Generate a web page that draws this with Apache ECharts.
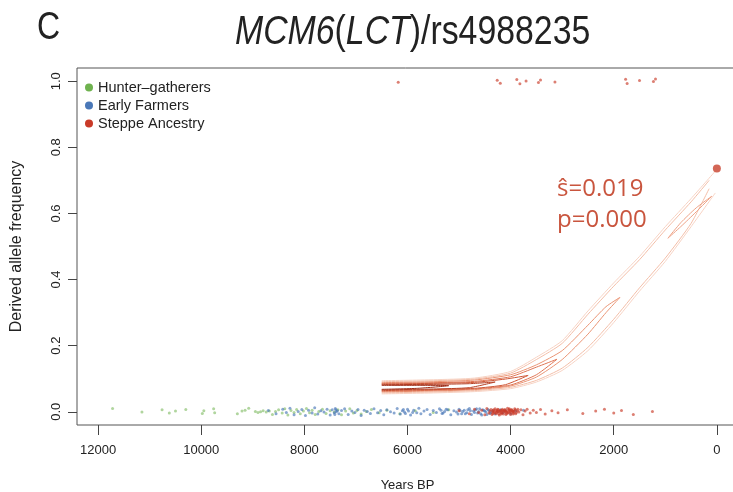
<!DOCTYPE html>
<html>
<head>
<meta charset="utf-8">
<script src="https://cdn.jsdelivr.net/npm/echarts@6/dist/echarts.min.js"></script>
<style>
  html, body { margin: 0; padding: 0; background: #fff; }
  #chart { width: 733px; height: 492px; }
</style>
</head>
<body>
<div id="chart"></div>
<script>
// tick labels
const xTicks = [0, 2000, 4000, 6000, 8000, 10000, 12000];
const yTicks = [0, 0.2, 0.4, 0.6, 0.8, 1.0];

// sample points: [years BP, allele frequency (0 or 1, jittered)]
const hunterPts = [
  [11720, 0.010], [11150, -0.001], [10760, 0.006], [10620, -0.004], [10500, 0.002],
  [10300, 0.007], [9980, -0.005], [9950, 0.003], [9760, 0.009], [9740, -0.003],
  [9300, -0.006], [9210, 0.002], [9150, 0.005], [9080, 0.011], [8950, 0.001],
  [8900, -0.002], [8850, 0.000], [8800, 0.003], [8740, -0.001], [8680, 0.002],
  [8620, -0.008], [8560, 0.001], [8500, 0.006], [8430, -0.004], [8380, 0.009],
  [8320, -0.010], [8260, 0.004], [8200, -0.002], [8150, 0.007], [8080, -0.006],
  [8020, 0.002], [7960, 0.010], [7900, -0.003], [7850, 0.005], [7790, -0.008],
  [7720, 0.001], [7650, 0.008], [7580, -0.005], [7500, 0.003], [7420, -0.001],
  [7350, 0.006], [7280, -0.009], [7200, 0.002], [7120, 0.009], [7050, -0.004],
  [6980, 0.004], [6900, -0.007], [6800, 0.001], [6700, 0.007], [6550, -0.003],
  [6400, 0.005], [6150, -0.006], [5850, 0.003], [5500, -0.002], [5200, 0.006]
];
const farmerPts = [
  [8700, 0.004], [8550, -0.006], [8420, 0.008], [8350, -0.002], [8280, 0.011],
  [8200, -0.009], [8120, 0.001], [8050, 0.007], [7980, -0.011], [7920, 0.005],
  [7850, -0.004], [7800, 0.012], [7740, -0.007], [7680, 0.003], [7620, -0.001],
  [7560, 0.008], [7500, -0.010], [7460, 0.006], [7420, -0.003], [7400, 0.010],
  [7380, 0.000], [7330, -0.006], [7280, 0.004], [7220, 0.009], [7150, -0.008],
  [7080, 0.002], [7020, -0.002], [6960, 0.007], [6900, -0.011], [6840, 0.005],
  [6780, 0.001], [6720, -0.005], [6650, 0.009], [6580, -0.003], [6520, 0.004],
  [6460, -0.009], [6400, 0.006], [6330, 0.000], [6260, -0.004], [6200, 0.010],
  [6140, -0.007], [6100, 0.003], [6060, -0.001], [6000, 0.008], [5940, -0.010],
  [5880, 0.005], [5820, -0.003], [5780, 0.011], [5740, -0.006], [5680, 0.002],
  [5620, 0.007], [5560, -0.008], [5500, 0.004], [5440, -0.002], [5380, 0.009],
  [5330, -0.005], [5280, 0.001], [5220, 0.006], [5160, -0.009], [5100, 0.003],
  [5050, -0.001], [5000, 0.008], [4950, -0.006], [4900, 0.005], [4850, -0.003],
  [4800, 0.010], [4760, -0.008], [4720, 0.002], [4680, 0.006], [4640, -0.004],
  [4600, 0.009], [4560, -0.010], [4520, 0.004], [4480, -0.001], [4440, 0.007],
  [4400, -0.005], [4350, 0.003], [4300, -0.007], [4250, 0.001], [4200, 0.006],
  [4150, -0.003], [4100, 0.004], [4000, -0.006], [3900, 0.002], [3750, 0.005],
  [7410, -0.008], [7390, 0.006], [7360, 0.003], [6080, 0.007], [6040, -0.005],
  [5980, 0.002], [5900, -0.002], [5350, 0.005], [5310, -0.004], [5250, 0.008],
  [5020, -0.007], [4980, 0.004], [4930, 0.001], [4880, -0.006], [4830, 0.006],
  [4780, 0.003], [4700, -0.002], [4660, 0.009], [4620, 0.001], [4580, -0.006],
  [4540, 0.006], [4500, 0.002], [4460, -0.008], [4420, 0.004], [4380, -0.002]
];
const steppePts = [
  [5000, 0.003], [4800, -0.006], [4700, 0.008], [4620, -0.002], [4560, 0.005],
  [4500, -0.009], [4460, 0.010], [4420, -0.004], [4400, 0.002], [4380, 0.007],
  [4360, -0.008], [4340, 0.004], [4320, -0.001], [4300, 0.009], [4280, -0.006],
  [4260, 0.001], [4240, 0.006], [4220, -0.010], [4200, 0.003], [4180, -0.003],
  [4160, 0.008], [4140, -0.007], [4120, 0.005], [4100, 0.000], [4080, -0.005],
  [4060, 0.011], [4040, -0.002], [4020, 0.004], [4000, -0.008], [3980, 0.007],
  [3960, 0.001], [3940, -0.004], [3920, 0.009], [3900, -0.006], [3870, 0.003],
  [3840, -0.001], [3800, 0.006], [3760, -0.009], [3720, 0.002], [3680, 0.008],
  [3620, -0.004], [3560, 0.005], [3500, -0.002], [3420, 0.007], [3330, -0.007],
  [3200, 0.003], [3080, -0.003], [2900, 0.006], [2600, -0.005], [2350, 0.002],
  [2180, 0.008], [2000, -0.004], [1850, 0.004], [1620, -0.008], [1250, 0.001],
  [4350, 0.000], [4330, 0.006], [4310, -0.004], [4290, 0.003], [4270, -0.002],
  [4250, 0.008], [4230, -0.006], [4210, 0.001], [4190, 0.005], [4170, -0.004],
  [4150, 0.002], [4130, -0.001], [4110, 0.007], [4090, -0.008], [4070, 0.003],
  [4050, -0.004], [4030, 0.006], [4010, 0.000], [3990, -0.003], [3970, 0.004],
  [3950, -0.007], [3930, 0.002], [3910, 0.006], [3890, -0.002], [3860, 0.008],
  [4345, -0.005], [4265, 0.004], [4185, -0.007], [4105, 0.002], [4025, 0.009],
  [3945, 0.001], [4235, 0.000], [4155, 0.004], [4075, -0.001], [3995, 0.005],
  [6180, 0.997], [4260, 1.003], [4200, 0.994], [3880, 1.005], [3820, 0.992],
  [3700, 1.001], [3460, 0.996], [3420, 1.004], [3140, 0.998], [1770, 1.006],
  [1740, 0.993], [1500, 1.002], [1230, 0.999], [1190, 1.007]
];
// present-day frequency
const modernPt = [[0, 0.736]];

// contour lines of the trajectory density (x = years BP, upper / lower edge)
const cOuter1X = [6500, 5500, 4700, 4000, 3500, 3000, 2500, 2000, 1500, 1000, 500, 30];
const cOuter1Up = [0.094, 0.097, 0.102, 0.122, 0.165, 0.215, 0.305, 0.390, 0.470, 0.560, 0.645, 0.728];
const cOuter1Lo = [0.054, 0.057, 0.061, 0.070, 0.090, 0.125, 0.185, 0.270, 0.365, 0.455, 0.560, 0.662];
const cOuter2X = [6500, 5500, 4700, 4000, 3500, 3000, 2500, 2000, 1500, 1000, 500, 150];
const cOuter2Up = [0.091, 0.094, 0.099, 0.117, 0.158, 0.207, 0.295, 0.380, 0.460, 0.550, 0.635, 0.700];
const cOuter2Lo = [0.057, 0.060, 0.064, 0.074, 0.095, 0.132, 0.195, 0.280, 0.375, 0.465, 0.570, 0.675];
const cIslandX = [950, 700, 400, 100];
const cIslandUp = [0.525, 0.572, 0.617, 0.652];
const cIslandLo = [0.525, 0.560, 0.605, 0.652];
const cAX = [6500, 5500, 4700, 4000, 3500, 3000, 2500, 2150, 1880];
const cAUp = [0.088, 0.091, 0.096, 0.112, 0.142, 0.185, 0.262, 0.318, 0.346];
const cALo = [0.060, 0.063, 0.067, 0.078, 0.105, 0.158, 0.235, 0.300, 0.346];
const cBX = [6500, 5500, 4700, 4000, 3500, 3100];
const cBUp = [0.086, 0.088, 0.092, 0.106, 0.135, 0.159];
const cBLo = [0.062, 0.065, 0.069, 0.081, 0.112, 0.159];
const cCX = [6500, 5500, 4700, 4100, 3660];
const cCUp = [0.084, 0.086, 0.089, 0.099, 0.110];
const cCLo = [0.064, 0.067, 0.071, 0.082, 0.110];
const cDX = [6500, 5500, 4800, 4300];
const cDUp = [0.082, 0.083, 0.085, 0.090];
const cDLo = [0.066, 0.069, 0.073, 0.090];
const cEX = [6500, 5800, 5200];
const cEUp = [0.080, 0.080, 0.079];
const cELo = [0.068, 0.071, 0.079];

// upper edge then lower edge back; 'open' leaves a gap where the two ends meet
function loop(xs, up, lo, mode) {
  const pts = xs.map((x, i) => [x, up[i]]);
  if (mode === 'open') pts.push(['-', '-']);
  for (let i = xs.length - 1; i >= 0; i--) pts.push([xs[i], lo[i]]);
  if (mode === 'closed') pts.push(pts[0]);
  return pts;
}

const contours = [
  { d: loop(cOuter1X, cOuter1Up, cOuter1Lo, 'open'), c: '#f7d3c4' },
  { d: loop(cOuter2X, cOuter2Up, cOuter2Lo, 'open'), c: '#f3bea8' },
  { d: loop(cIslandX, cIslandUp, cIslandLo, 'closed'), c: '#eea286' },
  { d: loop(cAX, cAUp, cALo), c: '#ea9474' },
  { d: loop(cBX, cBUp, cBLo), c: '#df7656' },
  { d: loop(cCX, cCUp, cCLo), c: '#cf5838' },
  { d: loop(cDX, cDUp, cDLo), c: '#b63f23' },
  { d: loop(cEX, cEUp, cELo), c: '#9c2d18' }
];

const regular = '"Liberation Sans", Arial, sans-serif';

const chart = echarts.init(document.getElementById('chart'));
chart.setOption({
  animation: false,
  legend: {
    data: ['Hunter\u2013gatherers', 'Early Farmers', 'Steppe Ancestry'],
    orient: 'vertical', left: 85, top: 80, padding: 0,
    icon: 'circle', itemWidth: 8, itemHeight: 8, itemGap: 3,
    itemStyle: { opacity: 1 },
    textStyle: { fontFamily: regular, fontSize: 14.5, color: '#222', lineHeight: 14 }
  },
  grid: {
    left: 77, top: 68, width: 661, height: 357,
    outerBoundsMode: 'none',
    show: true, borderColor: '#555', borderWidth: 1
  },
  xAxis: {
    type: 'value', inverse: true, min: -410, max: 12410,
    name: 'Years BP', nameLocation: 'middle', nameGap: 54,
    nameTextStyle: { fontFamily: regular, fontSize: 13, color: '#222' },
    axisLine: { show: false, onZero: false },
    splitLine: { show: false },
    axisTick: { show: true, customValues: xTicks, length: 10, lineStyle: { color: '#444' } },
    axisLabel: {
      customValues: xTicks, margin: 19, fontFamily: regular, fontSize: 13, color: '#222',
      formatter: v => String(v)
    }
  },
  yAxis: {
    type: 'value', min: -0.04, max: 1.04,
    name: 'Derived allele frequency', nameLocation: 'middle', nameGap: 52,
    nameTextStyle: { fontFamily: regular, fontSize: 16, color: '#222' },
    axisLine: { show: false, onZero: false },
    splitLine: { show: false },
    axisTick: { show: true, customValues: yTicks, length: 9, lineStyle: { color: '#444' } },
    axisLabel: {
      customValues: yTicks, rotate: 90, margin: 14,
      fontFamily: regular, fontSize: 13, color: '#222',
      formatter: v => v.toFixed(1)
    }
  },
  graphic: [
    {
      type: 'text', x: 37, y: 9, scaleX: 0.82,
      style: { text: 'C', font: '39px "Liberation Sans", Arial, sans-serif', fill: '#222' }
    },
    {
      type: 'text', x: 235, y: 12, scaleX: 0.825,
      style: {
        text: '{i|MCM6}{n|(}{i|LCT}{n|)/rs4988235}',
        rich: {
          i: { fontFamily: regular, fontSize: 41, fontStyle: 'italic', fill: '#222' },
          n: { fontFamily: regular, fontSize: 41, fill: '#222' }
        }
      }
    },
    { type: 'text', left: 557, top: 177, style: { text: '\u015D=0.019', font: '24px "Open Sans", sans-serif', fill: '#c9553e' } },
    { type: 'text', left: 557, top: 208, style: { text: 'p=0.000', font: '24px "Open Sans", sans-serif', fill: '#c9553e' } }
  ],
  series: [
    ...contours.map(c => ({
      type: 'line', data: c.d, showSymbol: false, silent: true, smooth: 0.2,
      connectNulls: false,
      lineStyle: { color: c.c, width: 1 }, z: 3
    })),
    {
      name: 'Hunter\u2013gatherers', type: 'scatter', data: hunterPts, symbolSize: 3,
      itemStyle: { color: '#6fb24f', opacity: 0.55 }, z: 2
    },
    {
      name: 'Early Farmers', type: 'scatter', data: farmerPts, symbolSize: 3,
      itemStyle: { color: '#4a78b8', opacity: 0.65 }, z: 2
    },
    {
      name: 'Steppe Ancestry', type: 'scatter', data: steppePts, symbolSize: 3,
      itemStyle: { color: '#c93a28', opacity: 0.65 }, z: 2
    },
    {
      type: 'scatter', data: modernPt, symbolSize: 8,
      itemStyle: { color: '#c8402c' }, z: 4
    }
  ]
});
</script>
</body>
</html>
